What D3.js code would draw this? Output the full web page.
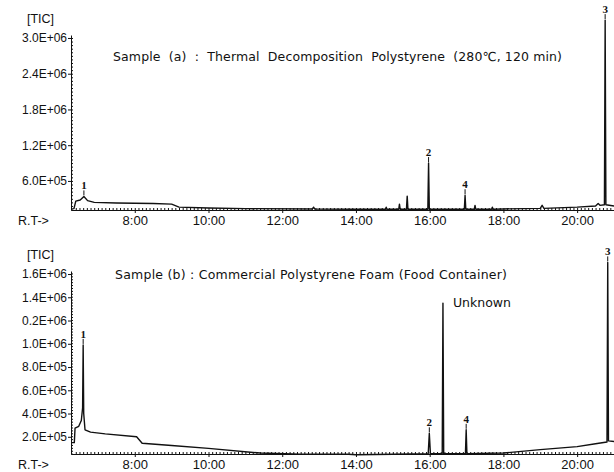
<!DOCTYPE html>
<html lang="en">

<head>
  <title>TIC chromatograms</title>
  <script src="https://cdn.jsdelivr.net/npm/d3@7/dist/d3.min.js"></script>
  <style>
    body { margin: 0; background: #fff; }
    svg text { fill: #111; }
    .axis path, .axis line { stroke: #111; }
    .axis text { font-family: "Liberation Sans", Arial, sans-serif; font-size: 12px; fill: #111; }
    .x.axis text { font-size: 13px; }
    .axis-label { font-family: "Liberation Sans", Arial, sans-serif; font-size: 12.5px; }
    .panel-title { font-family: "DejaVu Sans", Verdana, sans-serif; font-size: 12.5px; white-space: pre; }
    .peak-label { font-family: "Liberation Serif", serif; font-size: 11px; font-weight: bold; }
    .trace { fill: none; stroke: #111; stroke-width: 1.4; stroke-linejoin: round; }
  </style>
</head>

<body>
  <script>
    // retention time (min) and TIC intensity
    var timeA = [6.27, 6.35, 6.40, 6.52, 6.62, 6.72, 6.90, 7.50, 8.50, 9.00, 9.20, 10.00, 11.00,
                 12.82, 12.85, 12.88, 14.00, 14.80, 14.82, 14.84, 15.16, 15.18, 15.20, 15.37, 15.39, 15.41,
                 15.95, 15.97, 15.99, 16.94, 16.96, 16.98, 17.21, 17.23, 17.25, 17.68, 17.70, 17.72,
                 18.00, 19.00, 19.05, 19.10, 20.00, 20.50, 20.57, 20.62, 20.74, 20.76, 20.78, 21.00];
    var ticA = [1.3e5, 1.35e5, 2.6e5, 2.8e5, 3.4e5, 2.7e5, 2.4e5, 2.3e5, 2.2e5, 2.1e5, 1.6e5, 1.45e5, 1.35e5,
                1.3e5, 1.6e5, 1.3e5, 1.25e5, 1.25e5, 1.6e5, 1.25e5, 1.25e5, 2.1e5, 1.25e5, 1.25e5, 3.45e5, 1.25e5,
                1.25e5, 9.0e5, 1.25e5, 1.25e5, 3.6e5, 1.25e5, 1.25e5, 1.9e5, 1.25e5, 1.25e5, 1.6e5, 1.25e5,
                1.3e5, 1.4e5, 1.9e5, 1.4e5, 1.6e5, 1.8e5, 2.2e5, 1.9e5, 2.0e5, 3.3e6, 2.0e5, 1.8e5];

    var timeB = [6.27, 6.36, 6.38, 6.48, 6.55, 6.585, 6.60, 6.615, 6.65, 6.80, 7.20, 8.05, 8.20, 9.00, 10.00,
                 11.40, 12.50, 13.80, 14.00, 15.00, 15.96, 15.99, 16.02, 16.34, 16.36, 16.38,
                 16.97, 16.99, 17.01, 18.00, 19.00, 20.00, 20.50, 20.81, 20.83, 20.85, 21.00];
    var ticB = [1.5e5, 1.5e5, 2.75e5, 2.9e5, 3.4e5, 4.5e5, 9.9e5, 4.0e5, 2.6e5, 2.4e5, 2.25e5, 2.0e5, 1.45e5, 1.25e5, 1.0e5,
                0.6e5, 0.5e5, 0.5e5, 0.45e5, 0.5e5, 0.55e5, 2.3e5, 0.55e5, 0.55e5, 1.35e6, 0.55e5,
                0.55e5, 2.6e5, 0.55e5, 0.6e5, 0.9e5, 1.15e5, 1.4e5, 1.55e5, 1.7e6, 1.65e5, 1.6e5];

    var xTickValues = [8, 10, 12, 14, 16, 18, 20];
    var xTickLabels = ["8:00", "10:00", "12:00", "14:00", "16:00", "18:00", "20:00"];
    var yTicksA = [6e5, 1.2e6, 1.8e6, 2.4e6, 3.0e6];
    var yLabelsA = ["6.0E+05", "1.2E+06", "1.8E+06", "2.4E+06", "3.0E+06"];
    var yTicksB = [2e5, 4e5, 6e5, 8e5, 1.0e6, 1.2e6, 1.4e6, 1.6e6];
    var yLabelsB = ["2.0E+05", "4.0E+05", "6.0E+05", "8.0E+05", "1.0E+06", "0.2E+06", "1.4E+06", "1.6E+06"];

    var peaksA = [{ t: 6.62, v: 3.4e5, label: "1" }, { t: 15.97, v: 9.0e5, label: "2" },
                  { t: 16.96, v: 3.6e5, label: "4" }, { t: 20.76, v: 3.3e6, label: "3" }];
    var peaksB = [{ t: 6.60, v: 9.9e5, label: "1" }, { t: 15.99, v: 2.3e5, label: "2" },
                  { t: 16.99, v: 2.6e5, label: "4" }, { t: 20.83, v: 1.7e6, label: "3" }];

    var titleA = "Sample  (a)  :  Thermal  Decomposition  Polystyrene  (280\u2103, 120 min)";
    var titleB = "Sample (b) : Commercial Polystyrene Foam (Food Container)";

    var w = 614;
    var h = 472;

    var svg = d3.select("body").append("svg")
                .attr("width", w)
                .attr("height", h);

    var x = d3.scaleLinear()
              .domain([6.27, 21.0])
              .range([71, 614]);

    function drawPanel(params) {
      var y = d3.scaleLinear()
                .domain(params.yDomain)
                .range([params.bottom, params.top]);
      var g = svg.append("g");

      // minor ticks along both axes
      g.append("g")
       .classed("axis", true)
       .attr("transform", "translate(0," + params.bottom + ")")
       .call(d3.axisBottom(x).tickValues(d3.range(6.4, 21.0, 0.1)).tickSize(-2).tickFormat(""))
       .select(".domain").remove();
      g.append("g")
       .classed("axis", true)
       .attr("transform", "translate(71,0)")
       .call(d3.axisLeft(y).tickValues(d3.range(params.minorStart, params.yDomain[1], params.minorStep))
                           .tickSize(-2).tickFormat(""))
       .select(".domain").remove();

      g.append("g")
       .classed("x axis", true)
       .attr("transform", "translate(0," + params.bottom + ")")
       .call(d3.axisBottom(x)
               .tickValues(xTickValues)
               .tickSizeInner(3)
               .tickSizeOuter(0)
               .tickPadding(3)
               .tickFormat(function (datum, idx) {
                 return xTickLabels[idx];
               }));
      g.append("g")
       .classed("y axis", true)
       .attr("transform", "translate(71,0)")
       .call(d3.axisLeft(y)
               .tickValues(params.yTicks)
               .tickSizeInner(3)
               .tickSizeOuter(0)
               .tickPadding(1)
               .tickFormat(function (datum, idx) {
                 return params.yLabels[idx];
               }));

      g.append("text")
       .classed("axis-label", true)
       .attr("x", 27)
       .attr("y", params.top - 12)
       .text("[TIC]");
      g.append("text")
       .classed("axis-label", true)
       .attr("x", 18)
       .attr("y", params.bottom + 15)
       .text("R.T->");

      g.append("text")
       .classed("panel-title", true)
       .attr("x", params.titleX)
       .attr("y", params.titleY)
       .attr("textLength", params.titleLength)
       .attr("lengthAdjust", "spacing")
       .text(params.title);

      var line = d3.line()
                   .x(function (datum, idx) { return x(params.times[idx]); })
                   .y(function (datum) { return y(datum); });
      g.append("path")
       .classed("trace", true)
       .attr("d", line(params.values));

      var peaks = g.selectAll(".peak")
                   .data(params.peaks)
                   .enter()
                   .append("g")
                   .classed("peak", true);
      peaks.append("text")
           .classed("peak-label", true)
           .attr("text-anchor", "middle")
           .attr("x", function (datum) { return x(datum.t); })
           .attr("y", function (datum) { return y(datum.v) - 7; })
           .text(function (datum) { return datum.label; });
      peaks.append("line")
           .attr("x1", function (datum) { return x(datum.t); })
           .attr("x2", function (datum) { return x(datum.t); })
           .attr("y1", function (datum) { return y(datum.v) - 6; })
           .attr("y2", function (datum) { return y(datum.v) - 1; })
           .attr("stroke", "#111");

      return { g: g, y: y };
    }

    drawPanel({
      top: 35, bottom: 210,
      yDomain: [1.12e5, 3.05e6],
      minorStart: 1.2e5, minorStep: 6e4,
      yTicks: yTicksA, yLabels: yLabelsA,
      times: timeA, values: ticA, peaks: peaksA,
      title: titleA, titleX: 113, titleY: 61, titleLength: 449
    });

    var panelB = drawPanel({
      top: 271, bottom: 454,
      yDomain: [5.2e4, 1.626e6],
      minorStart: 5.5e4, minorStep: 2.5e4,
      yTicks: yTicksB, yLabels: yLabelsB,
      times: timeB, values: ticB, peaks: peaksB,
      title: titleB, titleX: 115, titleY: 279, titleLength: 392
    });

    // name tag for the unassigned peak near 16:20
    panelB.g.append("text")
            .classed("panel-title", true)
            .attr("x", x(16.36) + 10)
            .attr("y", panelB.y(1.35e6) + 4)
            .text("Unknown");
  </script>
</body>

</html>
